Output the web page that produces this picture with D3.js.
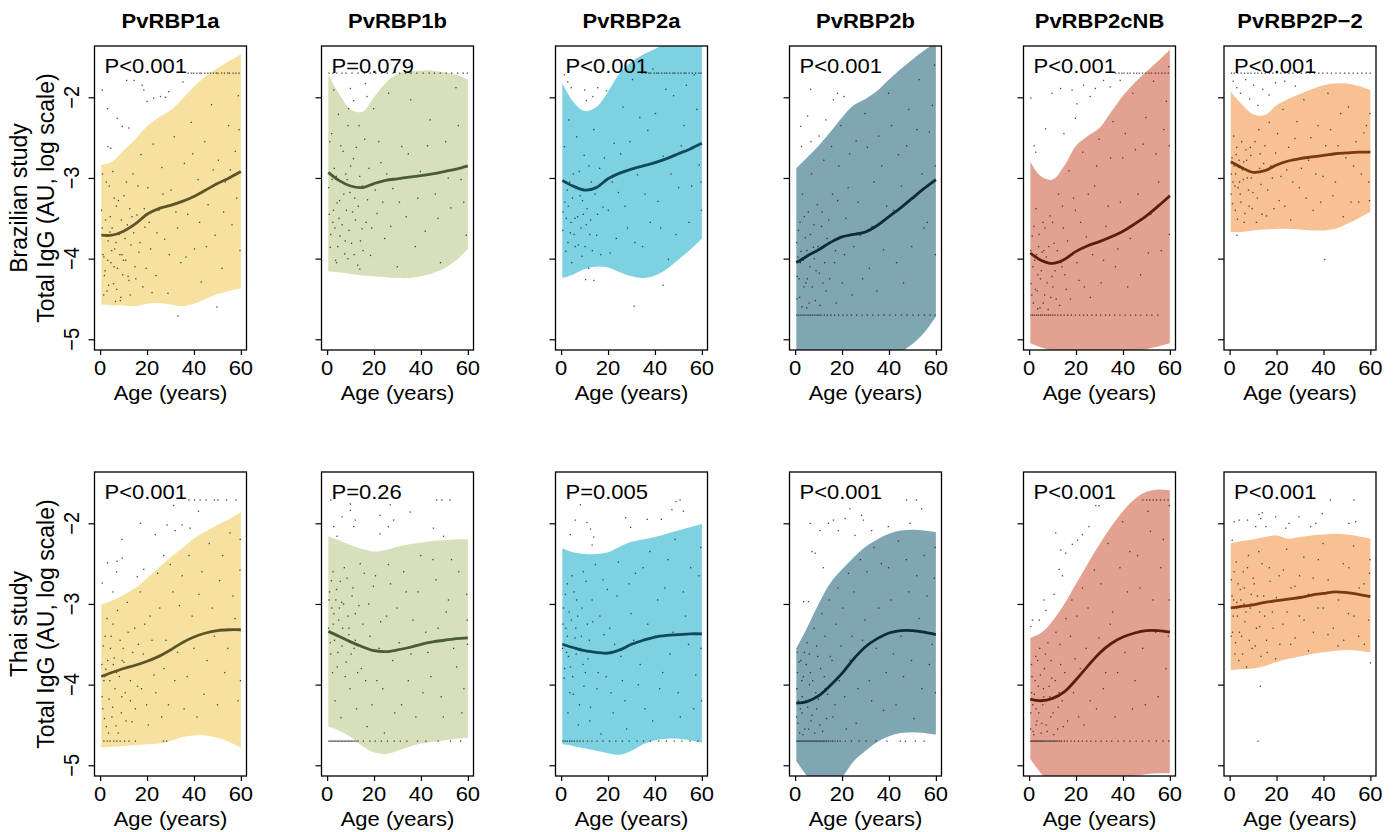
<!DOCTYPE html>
<html><head><meta charset="utf-8">
<script src="https://cdn.jsdelivr.net/npm/d3@7"></script>
<style>
body{margin:0;background:#fff}
svg{display:block}
text{font-family:"Liberation Sans",Arial,Helvetica,sans-serif;fill:#000}
</style></head>
<body><svg id="chart" width="1398" height="832"></svg>
<script>
// ---------------- DATA ----------------
const antigens = ["PvRBP1a","PvRBP1b","PvRBP2a","PvRBP2b","PvRBP2cNB","PvRBP2P\u22122"];
const studyNames = ["Brazilian study","Thai study"];
const yAxisTitle = "Total IgG (AU, log scale)";
const xAxisTitle = "Age (years)";
const xTicks = [0,20,40,60];
const yTicks = [-2,-3,-4,-5];
const pBrazil = ["P<0.001","P=0.079","P<0.001","P<0.001","P<0.001","P<0.001"];
const pThai   = ["P<0.001","P=0.26","P=0.005","P<0.001","P<0.001","P<0.001"];

// ages at which the fitted curve and its band were read
const ages = [0.5,5,10,15,20,25,30,35,40,45,50,55,60];

const fitBrazil = [
 [-3.71,-3.71,-3.66,-3.57,-3.45,-3.38,-3.34,-3.29,-3.23,-3.15,-3.07,-3.00,-2.92],
 [-2.93,-3.03,-3.10,-3.12,-3.07,-3.03,-3.01,-2.99,-2.97,-2.95,-2.92,-2.89,-2.85],
 [-3.03,-3.10,-3.15,-3.12,-3.01,-2.94,-2.89,-2.85,-2.81,-2.76,-2.70,-2.64,-2.57],
 [-4.05,-3.97,-3.89,-3.80,-3.73,-3.70,-3.67,-3.59,-3.48,-3.37,-3.25,-3.13,-3.02],
 [-3.93,-4.02,-4.06,-4.01,-3.91,-3.84,-3.79,-3.73,-3.66,-3.57,-3.47,-3.35,-3.22],
 [-2.80,-2.87,-2.93,-2.91,-2.84,-2.79,-2.76,-2.74,-2.72,-2.70,-2.69,-2.68,-2.68]
];
const upperBrazil = [
 [-2.84,-2.80,-2.66,-2.52,-2.36,-2.25,-2.16,-2.02,-1.87,-1.74,-1.64,-1.55,-1.47],
 [-1.72,-1.95,-2.15,-2.18,-2.00,-1.82,-1.71,-1.68,-1.67,-1.67,-1.69,-1.72,-1.78],
 [-1.82,-2.05,-2.17,-2.12,-1.93,-1.70,-1.56,-1.47,-1.40,-1.33,-1.30,-1.30,-1.33],
 [-2.88,-2.75,-2.60,-2.43,-2.25,-2.10,-2.02,-1.92,-1.78,-1.65,-1.53,-1.42,-1.32],
 [-2.80,-2.98,-3.02,-2.85,-2.60,-2.48,-2.38,-2.18,-1.98,-1.82,-1.68,-1.55,-1.41],
 [-1.93,-2.08,-2.21,-2.22,-2.10,-2.02,-1.96,-1.90,-1.85,-1.83,-1.83,-1.86,-1.91]
];
const lowerBrazil = [
 [-4.57,-4.58,-4.58,-4.59,-4.56,-4.55,-4.57,-4.59,-4.56,-4.50,-4.44,-4.40,-4.37],
 [-4.16,-4.17,-4.19,-4.21,-4.22,-4.23,-4.24,-4.24,-4.22,-4.18,-4.12,-4.02,-3.88],
 [-4.24,-4.20,-4.13,-4.10,-4.11,-4.17,-4.22,-4.24,-4.21,-4.13,-4.01,-3.89,-3.75],
 [-5.25,-5.30,-5.35,-5.38,-5.40,-5.40,-5.38,-5.32,-5.24,-5.16,-5.06,-4.92,-4.72],
 [-5.05,-5.10,-5.14,-5.17,-5.19,-5.20,-5.21,-5.20,-5.18,-5.15,-5.12,-5.09,-5.05],
 [-3.67,-3.67,-3.65,-3.64,-3.63,-3.63,-3.64,-3.65,-3.65,-3.63,-3.57,-3.50,-3.42]
];
const fitThai = [
 [-3.90,-3.85,-3.80,-3.76,-3.71,-3.65,-3.57,-3.48,-3.41,-3.36,-3.33,-3.32,-3.32],
 [-3.34,-3.40,-3.47,-3.53,-3.58,-3.59,-3.57,-3.54,-3.50,-3.47,-3.45,-3.43,-3.42],
 [-3.50,-3.54,-3.58,-3.60,-3.61,-3.57,-3.50,-3.45,-3.41,-3.39,-3.38,-3.37,-3.37],
 [-4.23,-4.21,-4.14,-4.01,-3.86,-3.68,-3.53,-3.43,-3.36,-3.33,-3.33,-3.35,-3.38],
 [-4.18,-4.20,-4.17,-4.09,-3.94,-3.77,-3.61,-3.49,-3.41,-3.36,-3.33,-3.33,-3.35],
 [-3.05,-3.03,-3.01,-2.98,-2.96,-2.94,-2.92,-2.89,-2.87,-2.85,-2.86,-2.88,-2.91]
];
const upperThai = [
 [-3.01,-2.96,-2.89,-2.80,-2.68,-2.55,-2.42,-2.31,-2.19,-2.10,-2.02,-1.95,-1.86],
 [-2.16,-2.21,-2.27,-2.32,-2.35,-2.33,-2.29,-2.26,-2.24,-2.22,-2.21,-2.20,-2.20],
 [-2.31,-2.36,-2.38,-2.38,-2.36,-2.29,-2.23,-2.20,-2.17,-2.13,-2.09,-2.05,-2.01],
 [-3.55,-3.30,-3.00,-2.74,-2.57,-2.42,-2.29,-2.20,-2.13,-2.09,-2.08,-2.09,-2.11],
 [-3.42,-3.36,-3.21,-3.00,-2.75,-2.50,-2.26,-2.04,-1.85,-1.70,-1.61,-1.58,-1.59],
 [-2.25,-2.22,-2.20,-2.17,-2.15,-2.19,-2.17,-2.15,-2.14,-2.13,-2.14,-2.16,-2.19]
];
const lowerThai = [
 [-4.78,-4.77,-4.76,-4.75,-4.74,-4.73,-4.70,-4.65,-4.63,-4.63,-4.66,-4.71,-4.78],
 [-4.52,-4.57,-4.65,-4.76,-4.84,-4.86,-4.82,-4.77,-4.73,-4.71,-4.69,-4.67,-4.66],
 [-4.74,-4.76,-4.79,-4.82,-4.85,-4.87,-4.82,-4.74,-4.69,-4.67,-4.67,-4.69,-4.72],
 [-4.95,-5.13,-5.30,-5.30,-5.15,-4.95,-4.82,-4.71,-4.64,-4.60,-4.59,-4.60,-4.62],
 [-4.92,-5.10,-5.25,-5.30,-5.30,-5.28,-5.24,-5.20,-5.16,-5.13,-5.11,-5.10,-5.10],
 [-3.82,-3.81,-3.80,-3.77,-3.72,-3.68,-3.65,-3.62,-3.60,-3.58,-3.57,-3.58,-3.60]
];

// individual responses [age, log IgG]
const pointsBrazil = [
 [[1.2,-3.95],[1.8,-4.21],[2.3,-3.52],[2.9,-4.40],[3.4,-3.78],[3.9,-3.10],[4.6,-4.05],[5.1,-3.62],[5.7,-4.31],[6.2,-3.88],[6.9,-3.35],[7.4,-4.12],[8.1,-3.70],[8.8,-4.48],[9.3,-3.95],[10.2,-3.22],[10.9,-4.02],[11.6,-3.58],[12.3,-4.27],[13.1,-3.83],[14.0,-2.95],[14.8,-4.10],[15.7,-3.46],[16.5,-3.92],[17.4,-2.71],[18.2,-4.35],[19.1,-3.61],[20.3,-3.12],[21.5,-3.88],[22.6,-2.58],[23.8,-4.21],[25.0,-3.40],[26.3,-2.87],[27.5,-3.76],[28.9,-4.43],[30.2,-3.15],[31.6,-2.49],[33.0,-3.62],[34.4,-4.05],[35.9,-2.82],[37.3,-3.45],[38.8,-2.31],[40.2,-3.88],[41.7,-3.02],[43.1,-4.29],[44.6,-2.55],[46.0,-3.33],[47.5,-2.09],[49.0,-3.71],[50.4,-2.78],[51.9,-4.12],[53.3,-3.05],[54.8,-2.35],[56.2,-3.58],[57.6,-2.67],[58.9,-1.98],[59.6,-3.90],[0.6,-3.40],[1.5,-4.45],[2.6,-3.05],[3.2,-4.02],[4.1,-3.67],[5.4,-2.92],[6.5,-4.53],[7.8,-3.28],[9.6,-4.20],[11.2,-3.05],[12.8,-4.45],[13.6,-3.48],
  [0.9,-1.91],[3.1,-2.14],[3.3,-2.61],[4.5,-2.63],[7.3,-2.26],[9.4,-2.36],[11.3,-1.79],[12.2,-2.38],[14.4,-1.79],[17.9,-1.85],[18.6,-1.91],[20.0,-2.05],[22.8,-2.01],[25.7,-1.99],[27.8,-2.00],[29.2,-1.93],[35.3,-1.81],[33.2,-4.71],[49.8,-4.60]],
 [[0.7,-3.12],[1.3,-3.86],[1.9,-2.45],[2.4,-3.55],[3.0,-2.88],[3.6,-4.02],[4.2,-3.31],[4.8,-2.21],[5.5,-3.72],[6.1,-3.05],[6.8,-2.67],[7.5,-3.94],[8.2,-3.40],[8.9,-2.35],[9.7,-3.18],[10.4,-3.81],[11.2,-2.76],[12.1,-3.52],[13.0,-4.08],[13.9,-2.98],[14.9,-3.63],[16.0,-2.52],[17.2,-3.27],[18.5,-3.96],[19.8,-2.14],[21.3,-3.44],[22.9,-2.81],[24.5,-3.75],[26.2,-1.95],[28.0,-3.13],[29.9,-4.10],[31.8,-2.61],[33.7,-3.48],[35.6,-2.03],[37.6,-3.85],[39.7,-2.92],[41.8,-3.66],[43.9,-2.28],[46.1,-3.20],[48.3,-4.05],[50.5,-2.55],[52.7,-3.37],[54.9,-1.88],[57.1,-3.02],[59.3,-3.71],[2.1,-3.02],[5.0,-3.50],[7.9,-2.95],[11.7,-3.25],[15.3,-3.90],
  [2.8,-1.91],[9.9,-1.89],[11.3,-2.04],[17.0,-1.99],[16.3,-1.83],[9.1,-2.14],[13.9,-4.13]],
 [[0.8,-3.42],[1.4,-2.61],[2.0,-3.91],[2.6,-3.15],[3.3,-2.28],[3.9,-3.68],[4.5,-4.05],[5.2,-2.95],[5.9,-3.50],[6.6,-2.49],[7.3,-3.83],[8.1,-3.22],[8.9,-3.97],[9.8,-2.72],[10.7,-3.58],[11.7,-4.12],[12.8,-3.05],[13.9,-2.40],[15.1,-3.71],[16.4,-2.88],[17.8,-3.36],[19.3,-1.92],[20.9,-3.93],[22.6,-2.57],[24.4,-3.18],[26.3,-2.12],[28.3,-3.62],[30.4,-1.78],[32.5,-2.96],[34.7,-3.85],[36.9,-2.41],[39.1,-1.65],[41.3,-3.29],[43.5,-2.73],[45.7,-4.01],[47.9,-1.98],[50.1,-3.12],[52.3,-2.35],[54.5,-3.55],[56.7,-1.72],[58.9,-2.84],[59.8,-3.40],[3.0,-3.35],[6.0,-3.85],[9.4,-3.45],[12.2,-3.70],
  [1.4,-1.72],[2.8,-1.81],[4.3,-1.88],[10.7,-2.04],[10.0,-1.91],[13.5,-1.99],[15.6,-1.88],[10.4,-4.26],[14.0,-4.27],[43.4,-4.33],[31.1,-4.59]],
 [[0.9,-4.22],[1.4,-3.65],[1.9,-4.48],[2.5,-3.91],[3.1,-3.20],[3.7,-4.35],[4.3,-3.74],[4.9,-4.61],[5.6,-3.42],[6.3,-4.10],[7.0,-2.95],[7.8,-3.86],[8.6,-4.52],[9.4,-3.33],[10.3,-4.18],[11.2,-3.60],[12.2,-2.78],[13.2,-4.40],[14.3,-3.52],[15.5,-2.61],[16.8,-4.05],[18.1,-3.28],[19.5,-2.35],[21.0,-3.95],[22.6,-3.12],[24.3,-4.45],[26.0,-2.54],[27.8,-3.71],[29.7,-2.20],[31.6,-4.12],[33.6,-3.05],[35.6,-2.48],[37.7,-3.89],[39.8,-1.95],[41.9,-3.40],[44.0,-2.71],[46.2,-4.30],[48.4,-2.15],[50.6,-3.25],[52.8,-1.78],[55.0,-3.62],[57.2,-2.43],[59.4,-1.60],[59.8,-3.95],[2.2,-4.05],[5.2,-4.25],[8.2,-4.00],[11.8,-4.30],[0.6,-3.80],[17.5,-4.55],
  [6.6,-1.90],[2.4,-2.36],[2.7,-2.61],[5.3,-2.23],[6.7,-2.55],[10.2,-2.48],[13.1,-2.28],[16.3,-2.03],[18.0,-1.95],[20.8,-1.99]],
 [[0.8,-4.31],[1.3,-3.72],[1.8,-4.55],[2.3,-4.02],[2.9,-3.38],[3.4,-4.40],[4.0,-3.85],[4.6,-4.61],[5.2,-4.15],[5.9,-3.55],[6.6,-4.45],[7.3,-3.98],[8.1,-4.63],[8.9,-3.47],[9.7,-4.22],[10.6,-3.81],[11.5,-4.50],[12.5,-3.20],[13.5,-4.05],[14.6,-3.62],[15.8,-4.38],[17.0,-2.91],[18.3,-3.95],[19.7,-3.40],[21.2,-4.27],[22.8,-2.68],[24.4,-3.73],[26.1,-4.48],[27.9,-3.10],[29.8,-2.52],[31.7,-4.02],[33.7,-3.35],[35.7,-2.30],[37.8,-3.88],[39.9,-2.75],[42.0,-4.35],[44.2,-1.95],[46.4,-3.20],[48.6,-2.58],[50.8,-3.93],[53.0,-1.80],[55.2,-3.05],[57.4,-2.40],[59.5,-1.62],[59.8,-3.70],[3.7,-4.20],[6.2,-3.90],[10.1,-4.35],[14.0,-4.10],
  [0.7,-2.01],[2.1,-2.60],[2.8,-2.68],[7.0,-2.39],[9.8,-1.95],[13.4,-1.89],[14.8,-2.45],[18.3,-1.91],[19.7,-2.26],[20.4,-2.08],[23.2,-1.85],[26.0,-1.99],[28.2,-1.89],[31.7,-1.79],[34.5,-1.87],[38.8,-1.79]],
 [[0.7,-2.95],[1.2,-3.32],[1.7,-2.48],[2.2,-3.10],[2.8,-2.71],[3.3,-3.51],[3.9,-2.87],[4.5,-3.20],[5.1,-2.55],[5.8,-3.02],[6.5,-3.44],[7.2,-2.78],[8.0,-3.15],[8.8,-2.62],[9.6,-3.38],[10.5,-2.93],[11.4,-3.55],[12.4,-2.40],[13.4,-3.08],[14.5,-2.82],[15.7,-3.47],[16.9,-2.31],[18.2,-3.00],[19.6,-2.69],[21.1,-3.28],[22.7,-2.15],[24.3,-2.90],[26.0,-3.52],[27.8,-2.51],[29.7,-3.12],[31.6,-2.03],[33.6,-2.78],[35.6,-3.40],[37.7,-2.35],[39.8,-2.98],[41.9,-1.95],[44.0,-3.22],[46.2,-2.60],[48.4,-3.48],[50.6,-2.12],[52.8,-2.85],[55.0,-3.30],[57.2,-2.44],[59.3,-3.05],[59.8,-2.20],[2.5,-2.95],[6.0,-2.80],[9.2,-3.00],[13.0,-2.70],[4.2,-3.05],
  [1.5,-1.80],[3.0,-1.88],[4.6,-1.95],[6.8,-1.78],[8.5,-2.02],[10.2,-1.85],[12.0,-2.10],[14.1,-1.90],[16.8,-1.97],[19.5,-1.82],[3.1,-3.71],[40.5,-4.01],[23.5,-1.80],[28.0,-1.86]]
];
const morePointsBrazil = [
 [[0.9,-3.62],[1.6,-3.98],[2.1,-4.15],[2.7,-3.71],[3.6,-4.33],[4.3,-3.48],[4.9,-3.90],[5.9,-4.10],[6.7,-3.80],[7.1,-4.38],[8.4,-3.95],[9.0,-3.52],[9.9,-4.02],[10.6,-3.75],[11.9,-4.22],[12.6,-3.38],[14.3,-3.68],[15.2,-4.25],[16.1,-3.10],[17.0,-3.80],[18.8,-3.38],[19.6,-4.12],[20.9,-3.55],[22.1,-4.42],[24.2,-3.68],[26.8,-3.20],[29.5,-3.95],[32.3,-3.42],[36.6,-3.98],[39.5,-2.70],[42.4,-3.55],[45.3,-3.85],[48.2,-2.90],[52.6,-3.42],[55.5,-2.90],[58.2,-3.25],[59.2,-2.40],[1.0,-2.95],[6.0,-3.25],[8.6,-4.52]],
 [[0.9,-3.45],[1.5,-3.70],[2.7,-3.40],[3.3,-3.62],[3.9,-2.98],[4.5,-3.85],[5.3,-3.28],[5.8,-2.60],[6.4,-3.58],[7.1,-3.20],[7.7,-3.78],[8.5,-3.02],[9.3,-3.65],[10.0,-2.85],[10.8,-3.42],[11.5,-3.95],[12.4,-2.62],[13.3,-3.35],[14.2,-3.78],[15.0,-3.10],[16.6,-3.55],[17.8,-2.88],[19.0,-3.62],[20.5,-3.15],[22.0,-2.55],[23.7,-3.30],[25.4,-2.95],[27.1,-3.60],[30.8,-3.30],[34.6,-2.70],[38.6,-3.25],[42.8,-2.60],[47.2,-3.50],[51.6,-3.00],[55.9,-2.35],[58.2,-3.30],[1.1,-2.55],[4.0,-4.05],[8.8,-4.00],[13.6,-2.35]],
 [[0.7,-3.65],[1.6,-3.30],[2.2,-3.50],[2.9,-3.80],[3.6,-3.05],[4.2,-3.55],[4.8,-3.25],[5.5,-3.70],[6.3,-3.12],[7.0,-3.48],[7.7,-2.92],[8.5,-3.62],[9.1,-3.28],[10.2,-3.85],[11.0,-3.38],[11.9,-2.85],[12.6,-3.52],[13.3,-3.90],[14.4,-3.20],[15.5,-3.45],[16.9,-3.95],[18.4,-2.75],[20.1,-3.40],[21.8,-3.05],[23.5,-3.75],[25.3,-2.70],[27.2,-3.35],[29.3,-2.55],[31.4,-3.80],[33.5,-2.25],[35.8,-3.20],[38.0,-3.55],[40.2,-2.20],[42.4,-3.62],[44.6,-1.90],[46.8,-2.95],[49.0,-3.70],[51.2,-2.60],[53.4,-1.85],[55.6,-3.10],[57.8,-2.15],[59.6,-3.05]],
 [[0.8,-4.50],[1.2,-3.98],[1.7,-4.25],[2.1,-3.55],[2.9,-4.60],[3.4,-4.02],[3.9,-3.48],[4.6,-4.30],[5.0,-3.90],[5.9,-4.55],[6.5,-3.70],[7.3,-4.35],[8.0,-3.58],[8.9,-4.15],[9.7,-3.85],[10.6,-4.58],[11.5,-3.42],[12.6,-4.05],[13.6,-3.75],[14.7,-4.25],[15.9,-3.20],[17.2,-3.90],[18.6,-2.85],[20.1,-4.30],[21.6,-3.50],[23.2,-2.70],[25.0,-3.85],[26.8,-3.30],[28.8,-4.25],[30.8,-2.62],[32.8,-3.60],[34.8,-4.40],[36.9,-2.85],[39.0,-3.35],[41.1,-2.35],[43.2,-4.05],[45.3,-3.10],[47.5,-2.60],[49.7,-3.85],[51.9,-2.40],[54.1,-2.95],[56.3,-3.55],[58.5,-2.10],[59.7,-2.85]],
 [[0.7,-3.90],[1.1,-4.45],[1.6,-4.10],[2.0,-3.60],[2.6,-4.38],[3.1,-3.95],[3.6,-4.62],[4.2,-3.70],[4.8,-4.25],[5.5,-3.92],[6.0,-4.55],[6.8,-3.62],[7.6,-4.30],[8.4,-3.85],[9.2,-4.48],[10.0,-3.55],[11.0,-4.15],[12.0,-3.90],[13.0,-4.58],[14.2,-3.35],[15.2,-4.20],[16.4,-3.78],[17.6,-4.50],[18.9,-3.25],[20.4,-4.05],[21.9,-3.55],[23.5,-4.35],[25.2,-3.20],[27.0,-3.95],[28.8,-2.85],[30.7,-4.30],[32.7,-3.60],[34.7,-2.75],[36.8,-4.10],[38.9,-3.30],[41.0,-2.45],[43.1,-3.75],[45.3,-2.65],[47.5,-4.20],[49.7,-2.25],[51.9,-3.45],[54.1,-2.70],[56.3,-3.90],[58.5,-2.05],[59.7,-2.60]],
 [[0.6,-3.20],[1.0,-2.75],[1.4,-3.05],[1.9,-2.85],[2.4,-3.40],[3.0,-2.62],[3.6,-3.12],[4.0,-2.78],[4.8,-3.30],[5.4,-2.90],[6.2,-3.55],[6.9,-2.65],[7.5,-3.00],[8.3,-3.35],[9.0,-2.72],[9.9,-3.18],[10.8,-2.55],[11.8,-3.25],[12.8,-2.88],[13.8,-3.45],[15.0,-2.60],[16.2,-3.15],[17.5,-2.85],[18.9,-3.38],[20.4,-2.45],[21.9,-2.98],[23.5,-3.35],[25.1,-2.62],[26.9,-3.05],[28.7,-2.30],[30.6,-2.88],[32.6,-3.25],[34.6,-2.50],[36.7,-2.95],[38.8,-3.30],[40.9,-2.60],[43.0,-2.40],[45.1,-3.05],[47.3,-2.20],[49.5,-2.75],[51.7,-3.30],[53.9,-2.55],[56.1,-2.95],[58.3,-2.35],[59.6,-3.28]]
];
const pointsThai = [
 [[0.8,-4.15],[1.3,-3.52],[1.8,-4.42],[2.4,-3.81],[2.9,-3.18],[3.5,-4.60],[4.1,-3.95],[4.7,-3.40],[5.3,-4.28],[6.0,-3.67],[6.7,-4.51],[7.4,-3.08],[8.2,-3.90],[9.0,-4.35],[9.8,-3.55],[10.7,-4.10],[11.6,-2.98],[12.6,-3.78],[13.6,-4.46],[14.7,-3.30],[15.9,-4.02],[17.1,-2.85],[18.4,-3.62],[19.8,-4.25],[21.3,-3.15],[22.9,-3.88],[24.5,-2.62],[26.2,-4.40],[28.0,-3.45],[29.9,-2.51],[31.8,-3.95],[33.8,-3.02],[35.8,-4.30],[37.9,-2.40],[40.0,-3.55],[42.1,-2.88],[44.3,-4.12],[46.5,-2.25],[48.7,-3.40],[50.9,-2.71],[53.1,-3.85],[55.3,-2.12],[57.5,-3.18],[59.6,-2.58],[59.8,-3.95],[2.0,-3.90],[5.6,-3.75],[9.4,-3.70],[12.9,-4.20],
  [0.9,-2.74],[3.1,-2.49],[5.4,-2.85],[7.2,-2.47],[9.3,-2.20],[9.4,-2.43],[7.0,-2.60],[15.8,-2.66],[17.2,-2.00],[18.6,-2.57],[23.5,-2.14],[27.1,-2.40],[28.5,-2.02],[31.3,-1.78],[32.0,-2.09],[34.9,-2.02],[38.4,-2.06],[41.9,-1.85]],
 [[0.8,-2.95],[1.3,-3.48],[1.8,-2.71],[2.3,-3.85],[2.9,-3.12],[3.4,-4.20],[4.0,-2.82],[4.6,-3.60],[5.2,-3.05],[5.9,-4.41],[6.6,-3.30],[7.3,-2.55],[8.1,-3.72],[8.9,-3.15],[9.7,-4.05],[10.6,-2.90],[11.5,-3.55],[12.5,-4.30],[13.5,-3.02],[14.6,-3.80],[15.8,-2.62],[17.0,-4.52],[18.3,-3.40],[19.7,-2.78],[21.2,-3.95],[22.8,-3.22],[24.4,-4.60],[26.1,-2.51],[27.9,-3.70],[29.8,-3.05],[31.7,-4.25],[33.7,-2.85],[35.7,-3.62],[37.8,-4.40],[39.9,-2.40],[42.0,-3.35],[44.2,-3.90],[46.4,-2.70],[48.6,-4.15],[50.8,-3.10],[53.0,-2.45],[55.2,-3.78],[57.4,-4.35],[59.5,-2.88],[59.8,-3.50],[2.6,-3.25],[6.2,-2.98],[9.3,-3.38],[12.0,-3.12],
  [2.8,-2.04],[4.2,-2.16],[6.3,-1.92],[9.9,-1.84],[11.3,-2.04],[9.9,-1.76],[12.0,-1.96],[22.6,-1.90],[26.1,-2.04],[28.3,-1.96],[35.4,-1.86],[45.3,-2.06],[49.6,-2.16],[22.6,-2.13],[26.9,-1.77]],
 [[0.8,-3.25],[1.3,-3.92],[1.8,-2.88],[2.3,-3.60],[2.9,-4.35],[3.4,-3.10],[4.0,-3.78],[4.6,-2.65],[5.2,-4.12],[5.9,-3.42],[6.6,-2.95],[7.3,-4.50],[8.1,-3.55],[8.9,-3.05],[9.7,-4.02],[10.6,-2.72],[11.5,-3.68],[12.5,-4.28],[13.5,-3.22],[14.6,-2.51],[15.8,-3.85],[17.0,-4.61],[18.3,-3.38],[19.7,-2.82],[21.2,-4.10],[22.8,-3.50],[24.4,-2.48],[26.1,-3.95],[27.9,-4.55],[29.8,-3.12],[31.7,-2.62],[33.7,-3.75],[35.7,-4.30],[37.8,-2.35],[39.9,-3.40],[42.0,-4.05],[44.2,-2.80],[46.4,-3.62],[48.6,-2.20],[50.8,-4.40],[53.0,-3.15],[55.2,-2.55],[57.4,-3.88],[59.5,-2.30],[59.8,-4.20],[2.6,-3.40],[6.2,-3.30],[9.3,-3.75],[12.0,-3.45],
  [3.9,-2.14],[6.0,-1.96],[8.2,-1.77],[11.0,-1.99],[12.5,-2.07],[13.2,-2.27],[13.9,-2.17],[27.5,-1.93],[29.6,-2.05],[36.7,-1.95],[42.7,-1.95],[47.2,-1.83],[50.7,-1.71],[52.1,-1.85],[48.9,-1.73]],
 [[0.7,-4.05],[1.2,-4.48],[1.7,-3.72],[2.2,-4.30],[2.8,-3.95],[3.3,-4.62],[3.9,-3.60],[4.5,-4.20],[5.1,-3.48],[5.8,-4.55],[6.5,-3.85],[7.2,-4.38],[8.0,-3.30],[8.8,-4.10],[9.6,-3.65],[10.5,-4.50],[11.4,-3.12],[12.4,-3.90],[13.4,-4.42],[14.5,-2.95],[15.7,-3.70],[16.9,-4.25],[18.2,-2.80],[19.6,-3.52],[21.1,-4.15],[22.7,-2.62],[24.3,-3.40],[26.0,-4.48],[27.8,-2.45],[29.7,-3.20],[31.6,-3.95],[33.6,-2.30],[35.6,-3.05],[37.7,-4.32],[39.8,-2.55],[41.9,-3.62],[44.0,-2.22],[46.2,-3.90],[48.4,-2.85],[50.6,-4.42],[52.8,-3.18],[55.0,-2.40],[57.2,-3.75],[59.3,-2.68],[59.8,-4.10],[3.0,-4.15],[6.1,-4.00],[9.2,-4.30],[12.8,-4.05],[0.9,-3.60],
  [6.4,-2.00],[3.6,-2.97],[5.7,-2.97],[7.1,-2.35],[8.5,-2.37],[10.6,-2.09],[12.0,-2.55],[14.2,-2.00],[16.3,-1.96],[18.4,-2.09],[21.3,-1.94],[23.4,-1.82],[25.5,-2.15],[28.3,-1.90],[29.1,-1.96],[32.6,-2.09],[39.7,-2.04],[47.5,-1.71],[51.7,-1.71],[53.9,-1.82],[48.9,-2.00]],
 [[0.7,-4.35],[1.2,-3.90],[1.7,-4.58],[2.2,-4.12],[2.8,-3.65],[3.3,-4.45],[3.9,-4.02],[4.5,-3.55],[5.1,-4.60],[5.8,-4.25],[6.5,-3.80],[7.2,-4.50],[8.0,-3.48],[8.8,-4.15],[9.6,-3.92],[10.5,-4.62],[11.4,-3.35],[12.4,-4.28],[13.4,-3.75],[14.5,-4.52],[15.7,-3.18],[16.9,-4.05],[18.2,-2.95],[19.6,-3.68],[21.1,-4.40],[22.7,-2.80],[24.3,-3.55],[26.0,-4.20],[27.8,-2.58],[29.7,-3.42],[31.6,-4.05],[33.6,-2.25],[35.6,-3.10],[37.7,-3.85],[39.8,-1.98],[41.9,-2.85],[44.0,-4.30],[46.2,-2.40],[48.4,-3.55],[50.6,-1.85],[52.8,-2.95],[55.0,-4.15],[57.2,-2.20],[59.3,-3.40],[59.8,-1.78],[3.0,-4.30],[6.1,-4.05],[9.2,-4.40],[12.8,-4.10],[1.0,-4.10],
  [0.7,-3.28],[1.4,-3.20],[4.3,-3.20],[6.4,-2.95],[7.1,-3.08],[10.6,-2.88],[11.3,-2.12],[12.8,-2.57],[13.5,-2.33],[14.2,-2.65],[15.6,-2.37],[18.4,-2.26],[20.6,-2.21],[22.7,-2.14],[25.5,-2.04],[28.4,-1.78],[29.8,-1.78]],
 [[0.7,-2.70],[1.2,-3.35],[1.7,-2.95],[2.2,-3.62],[2.8,-2.48],[3.3,-3.15],[3.9,-3.70],[4.5,-2.82],[5.1,-3.40],[5.8,-2.60],[6.5,-3.22],[7.2,-3.78],[8.0,-2.40],[8.8,-3.05],[9.6,-3.55],[10.5,-2.75],[11.4,-3.30],[12.4,-2.35],[13.4,-3.65],[14.5,-2.90],[15.7,-3.45],[16.9,-2.55],[18.2,-3.10],[19.6,-3.68],[21.1,-2.65],[22.7,-3.25],[24.3,-2.32],[26.0,-3.50],[27.8,-2.78],[29.7,-3.15],[31.6,-2.42],[33.6,-3.58],[35.6,-2.68],[37.7,-3.05],[39.8,-2.25],[41.9,-3.38],[44.0,-2.85],[46.2,-3.52],[48.4,-2.50],[50.6,-3.12],[52.8,-2.28],[55.0,-3.40],[57.2,-2.75],[59.3,-3.20],[59.8,-2.45],[3.0,-2.98],[6.1,-3.00],[9.2,-2.88],[12.8,-3.10],[1.0,-3.05],
  [1.9,-1.98],[4.0,-1.96],[7.6,-1.96],[12.5,-1.89],[13.9,-1.87],[13.2,-1.94],[11.1,-2.04],[15.4,-2.04],[19.6,-1.92],[23.9,-2.06],[25.3,-2.00],[29.5,-1.92],[34.5,-2.04],[36.7,-2.00],[39.5,-1.88],[50.8,-2.00],[53.7,-1.98],[1.1,-2.21],[13.1,-4.02],[12.1,-4.70],[60.0,-3.73]]
];
const morePointsThai = [
 [[0.7,-3.75],[1.1,-4.30],[1.6,-3.95],[2.1,-3.40],[2.6,-4.52],[3.2,-3.70],[3.8,-4.18],[4.4,-3.55],[5.0,-4.40],[5.5,-3.25],[6.3,-4.05],[7.0,-3.85],[7.7,-4.60],[8.5,-3.45],[9.2,-4.15],[10.1,-3.72],[11.0,-4.45],[11.9,-3.35],[12.9,-3.95],[13.9,-3.60],[15.0,-4.30],[16.3,-3.50],[17.6,-4.05],[19.0,-3.25],[20.5,-4.50],[22.1,-3.45],[23.7,-4.10],[25.4,-3.05],[27.2,-3.80],[29.1,-4.25],[31.0,-2.85],[33.0,-3.60],[35.0,-2.65],[37.1,-3.90],[39.2,-3.15],[41.3,-4.40],[43.4,-2.60],[45.6,-3.70],[47.8,-3.05],[50.0,-4.25],[52.2,-2.40],[54.4,-3.55],[56.6,-2.90],[58.8,-4.20],[59.7,-2.20]],
 [[0.6,-3.30],[1.0,-2.85],[1.5,-3.62],[2.0,-3.05],[2.5,-2.60],[3.1,-3.45],[3.7,-2.95],[4.3,-3.78],[4.9,-3.20],[5.6,-2.72],[6.3,-3.52],[7.0,-3.00],[7.7,-3.90],[8.5,-2.68],[9.3,-3.30],[10.2,-3.62],[11.0,-2.80],[12.0,-3.45],[13.0,-3.85],[14.1,-2.50],[15.2,-3.25],[16.4,-3.95],[17.7,-3.00],[19.1,-4.25],[20.6,-2.65],[22.1,-3.55],[23.7,-4.05],[25.3,-3.15],[27.0,-2.75],[28.8,-4.35],[30.7,-3.48],[32.6,-2.60],[34.6,-3.95],[36.6,-3.20],[38.7,-2.85],[40.8,-4.10],[42.9,-3.60],[45.1,-2.45],[47.3,-3.30],[49.5,-4.40],[51.7,-2.95],[53.9,-3.55],[56.1,-2.60],[58.3,-4.05],[59.7,-3.20]],
 [[0.6,-3.55],[1.0,-3.05],[1.5,-3.80],[2.0,-3.30],[2.6,-2.75],[3.1,-3.65],[3.7,-4.10],[4.3,-3.20],[4.9,-3.90],[5.5,-2.85],[6.4,-3.62],[7.0,-3.15],[7.8,-4.25],[8.6,-3.40],[9.4,-2.60],[10.3,-3.85],[11.2,-3.25],[12.2,-4.45],[13.2,-2.95],[14.2,-3.60],[15.3,-4.05],[16.5,-3.15],[17.8,-2.70],[19.2,-3.90],[20.7,-3.30],[22.2,-4.35],[23.8,-2.90],[25.5,-3.65],[27.2,-4.20],[29.0,-2.75],[30.9,-3.45],[32.9,-4.00],[34.9,-2.55],[36.9,-3.25],[39.0,-4.45],[41.1,-2.95],[43.3,-3.85],[45.5,-2.45],[47.7,-3.35],[49.9,-4.10],[52.1,-2.85],[54.3,-3.50],[56.5,-4.30],[58.7,-2.65],[59.6,-3.55]],
 [[0.6,-4.40],[1.0,-3.85],[1.4,-4.20],[1.9,-4.60],[2.4,-3.70],[2.9,-4.35],[3.5,-3.90],[4.1,-4.55],[4.7,-3.75],[5.3,-4.28],[6.0,-3.62],[6.7,-4.45],[7.5,-3.95],[8.3,-4.60],[9.1,-3.52],[9.9,-4.18],[10.8,-3.80],[11.7,-4.58],[12.7,-3.40],[13.8,-4.12],[14.9,-3.65],[16.1,-4.40],[17.4,-3.25],[18.8,-3.95],[20.3,-3.05],[21.8,-4.55],[23.4,-3.70],[25.1,-2.85],[26.8,-4.05],[28.7,-3.45],[30.6,-2.60],[32.6,-4.20],[34.6,-3.55],[36.7,-2.50],[38.8,-3.85],[40.9,-2.95],[43.0,-4.25],[45.2,-3.40],[47.4,-2.45],[49.6,-3.70],[51.8,-2.65],[54.0,-4.05],[56.2,-2.90],[58.4,-3.50],[59.7,-2.30]],
 [[0.6,-4.55],[1.0,-3.75],[1.5,-4.25],[2.0,-4.62],[2.5,-3.95],[3.0,-4.50],[3.6,-3.70],[4.1,-4.35],[4.8,-3.88],[5.4,-4.48],[6.2,-4.15],[6.9,-3.62],[7.7,-4.58],[8.5,-4.02],[9.3,-3.70],[10.2,-4.35],[11.1,-3.95],[12.1,-4.55],[13.1,-3.50],[14.1,-4.20],[15.2,-3.85],[16.4,-4.45],[17.6,-3.40],[18.9,-4.10],[20.3,-3.15],[21.8,-3.80],[23.4,-4.50],[25.1,-3.05],[26.9,-3.70],[28.7,-4.30],[30.6,-2.75],[32.6,-3.85],[34.6,-3.25],[36.6,-4.40],[38.7,-2.55],[40.8,-3.60],[42.9,-2.35],[45.1,-3.95],[47.3,-2.80],[49.5,-4.25],[51.7,-2.10],[53.9,-3.35],[56.1,-2.55],[58.3,-3.80],[59.7,-2.95]],
 [[0.6,-3.40],[1.0,-2.90],[1.5,-3.15],[1.9,-2.60],[2.5,-3.48],[3.0,-3.05],[3.6,-2.75],[4.2,-3.35],[4.8,-2.95],[5.5,-3.62],[6.2,-2.80],[6.9,-3.10],[7.6,-2.55],[8.4,-3.45],[9.1,-3.00],[10.0,-2.68],[10.9,-3.52],[11.8,-2.90],[12.8,-3.28],[13.8,-2.50],[14.9,-3.15],[16.0,-3.60],[17.2,-2.72],[18.5,-3.30],[19.9,-2.92],[21.4,-3.50],[22.9,-2.58],[24.5,-3.10],[26.2,-2.80],[27.9,-3.42],[29.8,-2.65],[31.7,-3.20],[33.7,-2.88],[35.7,-3.35],[37.8,-2.45],[39.9,-3.05],[42.0,-2.70],[44.2,-3.30],[46.4,-2.95],[48.6,-3.45],[50.8,-2.55],[53.0,-3.15],[55.2,-2.80],[57.4,-3.50],[59.6,-2.62]]
];

// ages of responses sitting at the lower / upper measurement limits
const limitsBrazil = [-4.70, -1.70];
const limitsThai = [-4.70, -1.71];
const ceilBrazil = [
 [37.6,38.9,39.8,41.2,42.5,43.1,44.6,45.9,47.0,48.3,49.5,50.2,51.8,53.0,54.4,55.1,56.7,57.9,59.2],
 [0.8,2.5,4.1,6.3,8.0,10.6,13.2,15.9,18.4,20.7,23.3,25.6,28.1,30.9,33.4,35.8,38.2,40.9,43.5,45.7,48.2,50.8,53.1,55.6,58.0,59.7],
 [34.5,36.0,37.4,38.1,39.6,40.8,41.5,42.9,44.2,45.0,46.3,47.7,48.4,49.8,51.1,52.5,53.2,54.6,55.9,57.3,58.7,59.6],
 [],
 [36.8,38.3,39.5,40.4,41.9,43.0,44.6,45.8,46.9,48.3,49.7,51.0,52.2,53.8,55.1,56.5,57.9,59.3],
 [0.8,2.0,3.4,4.9,6.3,7.8,9.1,10.7,12.0,13.6,15.2,16.9,18.4,20.1,21.8,23.5,25.3,27.0,28.9,30.6,32.5,34.2,36.1,38.0,39.7,41.6,43.4,45.3,47.1,49.0,50.8,52.7,54.5,56.4,58.2,59.9]
];
const floorBrazil = [
 [],[],[],
 [0.7,1.6,2.4,3.3,4.1,5.0,5.8,6.7,7.5,8.4,9.3,10.1,11.0,12.4,13.7,15.2,16.8,18.5,20.3,22.1,24.0,26.2,28.5,30.8,33.1,35.5,37.9,40.4,42.8,45.3,47.7,50.2,52.6,55.1,57.5,59.6],
 [0.7,1.5,2.3,3.2,4.0,4.9,5.7,6.6,7.5,8.3,9.2,10.1,11.0,12.2,13.5,14.9,16.4,18.0,19.7,21.5,23.2,24.8,26.7,28.6,30.5,32.6,34.3,36.5,38.7,40.9,43.2,45.4,47.6,50.1,52.3,54.8],
 []
];
const ceilThai = [
 [37.8,40.2,42.6,45.1,48.7,50.2,53.9,57.9],
 [1.5,46.7,48.9,52.4],
 [],[],
 [48.5,50.1,51.4,52.9,54.3,56.0,57.6,59.2],
 [42.9,53.0]
];
const floorThai = [
 [1.6,3.0,4.2,5.8,7.1,8.5,10.4,12.3,15.0,27.0,28.3],
 [0.7,1.3,1.9,2.5,3.1,3.7,4.3,4.9,5.5,6.1,6.7,7.3,7.9,8.5,9.1,9.7,10.3,10.9,11.6,12.3,13.1,15.4,18.2,20.5,23.1,25.7,28.6,31.2,34.0,38.5,42.1,47.3,52.6,56.9],
 [0.8,1.7,2.6,3.6,4.5,5.6,6.8,8.0,9.4,11.2,13.1,15.3,17.8,20.6,23.3,26.1,29.0,32.4,35.1,38.0,41.6,44.9,48.2,51.5,55.0,58.3],
 [0.7,1.3,1.9,2.5,3.1,3.7,4.3,4.9,5.5,6.1,6.7,7.3,7.9,8.5,9.1,9.7,10.3,10.9,11.5,12.1,12.7,13.4,14.2,15.1,16.0,17.0,18.1,19.2,21.4,24.0,27.3,30.2,34.5,39.1,44.8,47.0,51.2,55.0],
 [0.7,1.2,1.7,2.2,2.7,3.2,3.7,4.2,4.7,5.2,5.7,6.2,6.8,7.4,8.0,8.6,9.2,9.8,10.4,11.0,11.6,12.3,13.0,13.8,15.0,16.2,17.8,19.3,21.0,22.6,24.5,26.3,28.4,30.7,33.0,35.2,37.9,40.4,43.0,45.6,48.3,51.0,54.2,57.1,59.5],
 []
];

// ---------------- STYLE / LAYOUT ----------------
const bandColors = ["#F6E1A1","#D6E0BA","#7DD1E1","#81A6B3","#E3A291","#F8C194"];
const lineColors = ["#5E5526","#4C5A35","#0E4A58","#0B2C3A","#5A1E0C","#7A3810"];
const colLeft = [94.5,321.5,555.5,789.5,1023.5,1224];
const rowTop = [46,472];
const boxW = 152, boxH = 304;
const xDomain = [-2.4,62.4];
const yDomain = [-5.133,-1.364];
const SX = 1.1; // horizontal stretch of the lettering

const svg = d3.select("#chart");
const defs = svg.append("defs");

function label(sel, x, y, str, o={}) {
  return sel.append("text")
    .attr("transform", `translate(${x},${y}) scale(${o.noStretch?1:SX},1)` + (o.rotate ? ` rotate(${o.rotate})` : ""))
    .attr("text-anchor", o.anchor || "middle")
    .style("font-size", (o.size || 20) + "px")
    .style("font-weight", o.weight || "normal")
    .text(str);
}

const studies = [
  {name: studyNames[0], fit: fitBrazil, up: upperBrazil, lo: lowerBrazil, pts: pointsBrazil, more: morePointsBrazil, ceil: ceilBrazil, floor: floorBrazil, lim: limitsBrazil, p: pBrazil},
  {name: studyNames[1], fit: fitThai, up: upperThai, lo: lowerThai, pts: pointsThai, more: morePointsThai, ceil: ceilThai, floor: floorThai, lim: limitsThai, p: pThai}
];

const fmt = d3.format("d");

studies.forEach((st, r) => {
  const y0 = rowTop[r];
  antigens.forEach((ag, c) => {
    const x0 = colLeft[c];
    const x = d3.scaleLinear().domain(xDomain).range([x0, x0 + boxW]);
    const y = d3.scaleLinear().domain(yDomain).range([y0 + boxH, y0]);
    const g = svg.append("g");
    const cid = `clip-${r}-${c}`;
    defs.append("clipPath").attr("id", cid).append("rect")
      .attr("x", x0).attr("y", y0).attr("width", boxW).attr("height", boxH);
    const pg = g.append("g").attr("clip-path", `url(#${cid})`);

    const rows = ages.map((a, i) => ({a, f: st.fit[c][i], hi: st.up[c][i], lo: st.lo[c][i]}));
    pg.append("path").datum(rows)
      .attr("d", d3.area().x(d => x(d.a)).y0(d => y(d.lo)).y1(d => y(d.hi)).curve(d3.curveCatmullRom.alpha(0.5)))
      .attr("fill", bandColors[c]);

    const dots = st.pts[c].concat(st.more[c])
      .concat(st.ceil[c].map(a => [a, st.lim[1]]))
      .concat(st.floor[c].map(a => [a, st.lim[0]]));
    pg.selectAll("rect.pt").data(dots).enter().append("rect").attr("class","pt")
      .attr("x", d => x(d[0]) - 0.6).attr("y", d => y(d[1]) - 0.6)
      .attr("width", 1.3).attr("height", 1.3)
      .attr("fill", "#1b1b1b").attr("fill-opacity", 0.8);

    pg.append("path").datum(rows)
      .attr("d", d3.line().x(d => x(d.a)).y(d => y(d.f)).curve(d3.curveCatmullRom.alpha(0.5)))
      .attr("fill", "none").attr("stroke", lineColors[c]).attr("stroke-width", 2.8);

    // axes
    const ax = g.append("g").attr("transform", `translate(${x0},0)`)
      .call(d3.axisLeft(y).tickValues(yTicks).tickSize(6).tickFormat(""));
    ax.select(".domain").remove();
    ax.selectAll("line").attr("stroke", "#000").attr("stroke-width", 1.2);
    const bx = g.append("g").attr("transform", `translate(0,${y0 + boxH})`)
      .call(d3.axisBottom(x).tickValues(xTicks).tickSize(5).tickFormat(""));
    bx.select(".domain").remove();
    bx.selectAll("line").attr("stroke", "#000").attr("stroke-width", 1.2);

    g.append("rect").attr("x", x0).attr("y", y0).attr("width", boxW).attr("height", boxH)
      .attr("fill", "none").attr("stroke", "#000").attr("stroke-width", 1.3);

    xTicks.forEach(t => label(g, x(t), y0 + boxH + 25, fmt(t)));
    label(g, x0 + boxW / 2, y0 + boxH + 50, xAxisTitle);
    if (c === 0) {
      yTicks.forEach(t => label(g, x0 - 16, y(t), fmt(t), {rotate: -90}));
      const cy = y0 + boxH / 2;
      label(g, 27, cy, st.name, {rotate: -90, size: 23, noStretch: true});
      label(g, 54, cy, yAxisTitle, {rotate: -90, size: 23, noStretch: true});
    }
    label(g, x0 + 10, y0 + 27, st.p[c], {anchor: "start"});
    if (r === 0) label(g, x0 + boxW / 2, 28, ag, {weight: "bold"});
  });
});
</script>
</body></html>
